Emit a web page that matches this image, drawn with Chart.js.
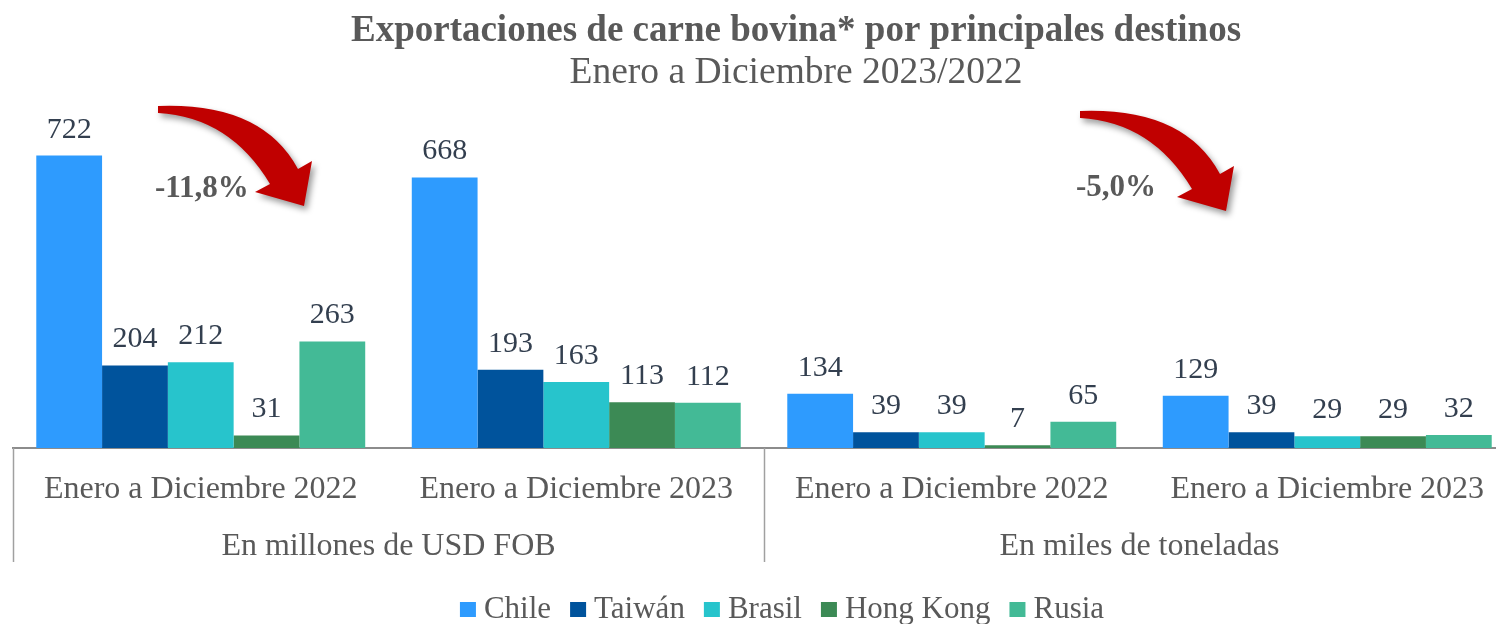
<!DOCTYPE html>
<html>
<head>
<meta charset="utf-8">
<script src="https://cdn.jsdelivr.net/npm/chart.js@4.4.1/dist/chart.umd.min.js"></script>
<style>
    body { margin: 0; overflow: hidden; background: #ffffff; }
    #wrap { width: 1520px; height: 624px; }
</style>
</head>
<body>
<div id="wrap"><canvas id="chart" width="1520" height="624"></canvas></div>
<script>
// data
var categories = ['Enero a Diciembre 2022', 'Enero a Diciembre 2023', 'Enero a Diciembre 2022', 'Enero a Diciembre 2023'];
var groupLabels = ['En millones de USD FOB', 'En miles de toneladas'];
var seriesNames = ['Chile', 'Taiwán', 'Brasil', 'Hong Kong', 'Rusia'];
var chile = [722, 668, 134, 129];
var taiwan = [204, 193, 39, 39];
var brasil = [212, 163, 39, 29];
var hongKong = [31, 113, 7, 29];
var rusia = [263, 112, 65, 32];
var changes = ['-11,8%', '-5,0%'];

var SERIF = '"Liberation Serif", "Times New Roman", serif';

var ExportChart = {
    s: {
        canvas: document.getElementById('chart'),
        colors: ['#2e9bfe', '#00539c', '#27c4cc', '#3c8a55', '#43ba96'],
        gray: '#595959',
        labelColor: '#333f4f'
    },

    init: function () {
        ExportChart.build();
    },

    // curved red arrow, tail at (ox, oy)
    drawArrow: function (ctx, ox, oy) {
        ctx.save();
        ctx.translate(ox - 158, oy - 110);
        ctx.shadowColor = 'rgba(0,0,0,0.4)';
        ctx.shadowBlur = 6;
        ctx.shadowOffsetX = 3;
        ctx.shadowOffsetY = 4;
        ctx.fillStyle = '#c00000';
        ctx.beginPath();
        ctx.moveTo(158, 106);
        ctx.quadraticCurveTo(262, 102, 298, 169);
        ctx.lineTo(312, 161);
        ctx.lineTo(304, 206);
        ctx.lineTo(255, 192);
        ctx.lineTo(270, 184);
        ctx.quadraticCurveTo(230, 117, 158, 113);
        ctx.closePath();
        ctx.fill();
        ctx.restore();
    },

    decor: {
        id: 'decor',
        afterDatasetsDraw: function (chart) {
            let ctx = chart.ctx;
            ctx.save();
            ctx.font = '30px ' + SERIF;
            ctx.fillStyle = ExportChart.s.labelColor;
            ctx.textAlign = 'center';
            ctx.textBaseline = 'alphabetic';
            chart.data.datasets.forEach(function (ds, i) {
                chart.getDatasetMeta(i).data.forEach(function (bar, j) {
                    ctx.fillText(String(ds.data[j]), bar.x, bar.y - 18);
                });
            });
            ctx.restore();
        },
        afterDraw: function (chart) {
            let ctx = chart.ctx;
            let s = ExportChart.s;
            let x = chart.scales.x;
            let x2 = chart.scales.x2;

            // title
            ctx.save();
            ctx.fillStyle = s.gray;
            ctx.textAlign = 'center';
            ctx.textBaseline = 'middle';
            ctx.font = 'bold 37px ' + SERIF;
            ctx.fillText('Exportaciones de carne bovina* por principales destinos', 796, 31);
            ctx.font = '37.5px ' + SERIF;
            ctx.fillText('Enero a Diciembre 2023/2022', 796, 73);
            ctx.restore();

            // group separators
            ctx.save();
            ctx.strokeStyle = '#a0a0a0';
            ctx.lineWidth = 1.5;
            let seps = [x.left, (x.getPixelForValue(1) + x.getPixelForValue(2)) / 2];
            seps.forEach(function (px) {
                ctx.beginPath();
                ctx.moveTo(Math.round(px) + 0.5, chart.chartArea.bottom);
                ctx.lineTo(Math.round(px) + 0.5, x2.bottom);
                ctx.stroke();
            });
            ctx.restore();

            // arrows and change labels
            ExportChart.drawArrow(ctx, 158, 110);
            ExportChart.drawArrow(ctx, 1080, 115);
            ctx.save();
            ctx.fillStyle = s.gray;
            ctx.font = 'bold 31px ' + SERIF;
            ctx.textAlign = 'left';
            ctx.textBaseline = 'middle';
            ctx.fillText(changes[0], 155, 189);
            ctx.fillText(changes[1], 1076, 188);
            ctx.restore();

            // legend
            ctx.save();
            ctx.font = '31px ' + SERIF;
            ctx.textBaseline = 'middle';
            let total = 0;
            seriesNames.forEach(function (n, i) {
                total += 16 + 8 + ctx.measureText(n).width + (i < seriesNames.length - 1 ? 19 : 0);
            });
            let lx = 782 - total / 2;
            seriesNames.forEach(function (n, i) {
                ctx.fillStyle = s.colors[i];
                ctx.fillRect(lx, 602, 16, 15);
                ctx.fillStyle = s.gray;
                ctx.fillText(n, lx + 24, 610);
                lx += 16 + 8 + ctx.measureText(n).width + 19;
            });
            ctx.restore();
        }
    },

    build: function () {
        let series = [chile, taiwan, brasil, hongKong, rusia];
        let datasets = [];
        for (let i = 0; i < series.length; i++) {
            datasets.push({
                label: seriesNames[i],
                data: series[i],
                backgroundColor: ExportChart.s.colors[i],
                borderWidth: 0,
                barPercentage: 1,
                categoryPercentage: 0.876
            });
        }

        new Chart(ExportChart.s.canvas, {
            type: 'bar',
            data: {
                labels: categories,
                datasets: datasets
            },
            options: {
                responsive: false,
                animation: false,
                devicePixelRatio: 1,
                layout: {
                    padding: { left: 13, right: 5, top: 124, bottom: 62 }
                },
                plugins: {
                    legend: { display: false },
                    title: { display: false },
                    tooltip: { enabled: false }
                },
                scales: {
                    y: {
                        display: false,
                        min: 0,
                        max: 800
                    },
                    x: {
                        position: 'bottom',
                        grid: { display: true, drawOnChartArea: false, drawTicks: false },
                        border: { display: true, color: '#8c8c8c', width: 2 },
                        ticks: {
                            color: ExportChart.s.gray,
                            font: { family: SERIF, size: 32 },
                            padding: 22,
                            maxRotation: 0,
                            autoSkip: false
                        },
                        afterFit: function (scale) {
                            scale.height = 59;
                        }
                    },
                    x2: {
                        type: 'category',
                        position: 'bottom',
                        labels: groupLabels,
                        grid: { display: false },
                        border: { display: false },
                        ticks: {
                            color: ExportChart.s.gray,
                            font: { family: SERIF, size: 32 },
                            padding: 12,
                            maxRotation: 0,
                            autoSkip: false
                        },
                        afterFit: function (scale) {
                            scale.height = 55;
                        }
                    }
                }
            },
            plugins: [ExportChart.decor]
        });
    }
};

ExportChart.init();
</script>
</body>
</html>
